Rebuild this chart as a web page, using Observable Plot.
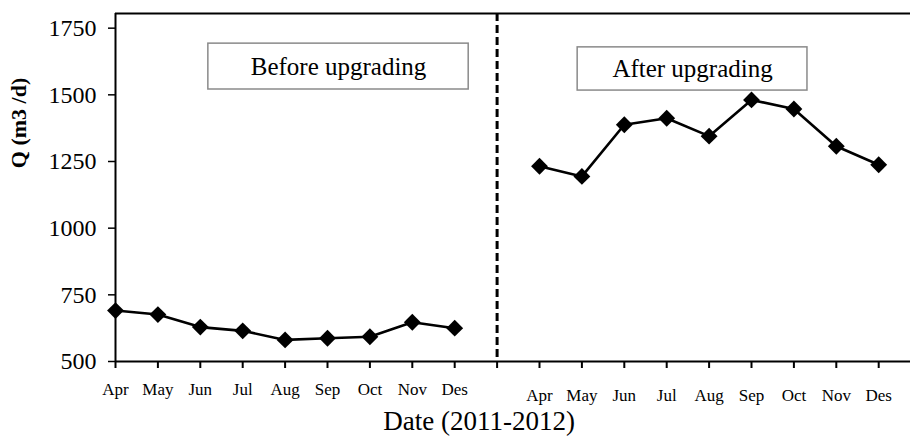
<!DOCTYPE html>
<html>
<head>
<meta charset="utf-8">
<script src="https://cdn.jsdelivr.net/npm/d3@7"></script>
<script src="https://cdn.jsdelivr.net/npm/@observablehq/plot@0.6"></script>
<style>
  html, body { margin: 0; padding: 0; background: #fff; }
  #chart svg { display: block; }
</style>
</head>
<body>
<div id="chart"></div>
<script>
// ---- data ----
const months = ["Apr", "May", "Jun", "Jul", "Aug", "Sep", "Oct", "Nov", "Des"];
const beforeQ = [691, 676, 629, 615, 581, 587, 593, 647, 625];
const afterQ = [1232, 1194, 1388, 1412, 1345, 1481, 1447, 1307, 1238];
const yTicks = [500, 750, 1000, 1250, 1500, 1750];
const periodNames = ["Before upgrading", "After upgrading"];
const xTitle = "Date (2011-2012)";
const yTitle = "Q (m3 /d)";

// ---- layout constants ----
const Y_MIN = 500, Y_MAX = 1805;
const X_MAX = 18.75;        // category slots: 0..8 before, 9 divider, 10..18 after
const DIVIDER = 9;
const serif = "'Liberation Serif', 'Times New Roman', Times, serif";

const data = [
  ...beforeQ.map((q, i) => ({idx: i, month: months[i], q, period: periodNames[0]})),
  ...afterQ.map((q, i) => ({idx: i + 10, month: months[i], q, period: periodNames[1]}))
];

// annotation boxes (data units)
const boxes = [
  {text: periodNames[0], x1: 2.19, x2: 8.33, y1: 1520, y2: 1692},
  {text: periodNames[1], x1: 10.9, x2: 16.32, y1: 1516, y2: 1678}
];

const chart = Plot.plot({
  width: 910,
  height: 448,
  marginLeft: 115,
  marginRight: 0,
  marginTop: 13,
  marginBottom: 87,
  style: {fontFamily: serif, color: "#000", background: "#fff"},
  x: {domain: [0, X_MAX], axis: null},
  y: {domain: [Y_MIN, Y_MAX], axis: null},
  marks: [
    // top border
    Plot.ruleY([Y_MAX], {stroke: "#000", strokeWidth: 2}),
    // y axis
    Plot.axisY({ticks: yTicks, tickSize: 7, tickPadding: 12, fontSize: 24, label: null, strokeWidth: 1.5, tickFormat: d => String(d)}),
    Plot.ruleX([0], {stroke: "#000", strokeWidth: 2}),
    // x axis
    Plot.axisX({ticks: d3.range(0, 19), tickSize: 7, tickFormat: () => "", label: null, strokeWidth: 2}),
    Plot.ruleY([Y_MIN], {stroke: "#000", strokeWidth: 2}),
    // divider
    Plot.ruleX([DIVIDER], {stroke: "#000", strokeWidth: 3, strokeDasharray: "8,4"}),
    // series
    Plot.line(data, {x: "idx", y: "q", z: "period", stroke: "#000", strokeWidth: 2.6}),
    Plot.dot(data, {x: "idx", y: "q", symbol: "diamond2", r: 7.6, fill: "#000", stroke: "none"}),
    // month labels
    Plot.text(data.filter(d => d.period === periodNames[0]), {x: "idx", frameAnchor: "bottom", text: "month", dy: 33, fontSize: 17}),
    Plot.text(data.filter(d => d.period === periodNames[1]), {x: "idx", frameAnchor: "bottom", text: "month", dy: 39, fontSize: 17}),
    // annotation boxes
    Plot.rect(boxes, {x1: "x1", x2: "x2", y1: "y1", y2: "y2", fill: "#fff", stroke: "#8a8a8a", strokeWidth: 1.5}),
    Plot.text(boxes, {x: d => (d.x1 + d.x2) / 2, y: d => (d.y1 + d.y2) / 2, text: "text", fontSize: 25}),
    // axis titles
    Plot.text([xTitle], {x: DIVIDER, frameAnchor: "bottom", dx: -18, dy: 68, fontSize: 27}),
    Plot.text([yTitle], {y: 1225, frameAnchor: "left", dx: -97, rotate: -90, fontSize: 22, fontWeight: "bold"})
  ]
});

document.getElementById("chart").appendChild(chart);
</script>
</body>
</html>
